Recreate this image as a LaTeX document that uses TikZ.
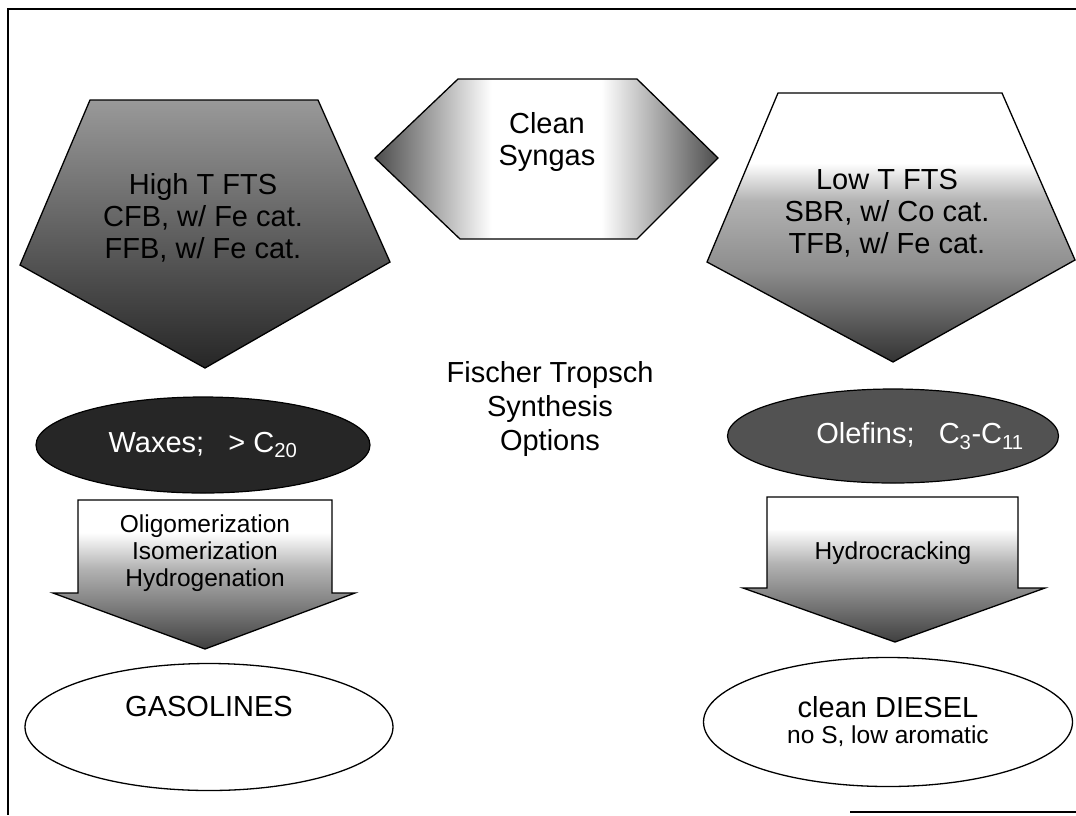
\documentclass[tikz,border=0pt]{standalone}
\usepackage{fontspec}
\setmainfont{Liberation Sans}
\usetikzlibrary{shapes.geometric}
\colorlet{gA}{black!40}
\colorlet{gB}{black!85}
\colorlet{gC}{black!30}
\colorlet{gD}{black!45}
\colorlet{gE}{black!80}
\colorlet{gF}{black!70}
\colorlet{gG}{black!50}
\colorlet{gH}{black!75}
\pgfdeclareverticalshading{leftpent}{100bp}{color(0bp)=(gB); color(25bp)=(gB); color(75bp)=(gA); color(100bp)=(gA)}
\pgfdeclareverticalshading{rightpent}{100bp}{color(0bp)=(gE); color(25bp)=(gE); color(42bp)=(gD); color(55bp)=(gC); color(62bp)=(white); color(100bp)=(white)}
\pgfdeclareverticalshading{arrowshade}{100bp}{color(0bp)=(gH); color(25bp)=(gH); color(40bp)=(gG); color(52bp)=(gC); color(64bp)=(white); color(100bp)=(white)}
\pgfdeclarehorizontalshading{synshade}{100bp}{color(0bp)=(gF); color(25bp)=(gF); color(42bp)=(white); color(58bp)=(white); color(75bp)=(gF); color(100bp)=(gF)}
\tikzset{
  outline/.style={draw=black, line width=1.3pt, line join=miter},
  big/.style={font=\fontsize{29}{32}\selectfont, align=center, inner sep=0pt},
  small/.style={font=\fontsize{24.5}{27}\selectfont, align=center, inner sep=0pt},
  darkoval/.style={ellipse, draw=black, line width=1.2pt, inner sep=0pt},
  whiteoval/.style={ellipse, draw=black, line width=1.3pt, fill=white, inner sep=0pt},
  frameline/.style={draw=black, line width=1.6pt}
}
\begin{document}
\begin{tikzpicture}[x=1pt,y=-1pt]
\useasboundingbox (0,0) rectangle (1076,815);
% frame
\coordinate (ftl) at (8,9);
\coordinate (ftr) at (1076,9);
\coordinate (fbl) at (8,815);
\coordinate (fbm) at (850,812);
\coordinate (fbr) at (1076,812);
\draw[frameline] (ftr) -- (ftl) -- (fbl);
\draw[frameline] (fbm) -- (fbr);

% left pentagon
\path[outline, shading=leftpent] (90,100) -- (318,100) -- (390,262) -- (205,368) -- (20,265) -- cycle;
% right pentagon
\path[outline, shading=rightpent] (778,93) -- (1002,93) -- (1075,260) -- (893,362) -- (707,262) -- cycle;
% clean syngas hexagon
\path[outline, shading=synshade] (375,158) -- (458,79) -- (637,79) -- (718,158) -- (637,239) -- (460,239) -- cycle;

% texts in top shapes
\node[big] (syn) at (547,142) {Clean\\Syngas};
\node[big] (hit) at (203,218) {High T FTS\\CFB, w/ Fe cat.\\FFB, w/ Fe cat.};
\node[big] (lot) at (887,213) {Low T FTS\\SBR, w/ Co cat.\\TFB, w/ Fe cat.};
\node[big, font=\fontsize{29}{34}\selectfont] (fts) at (550,409) {Fischer Tropsch\\Synthesis\\Options};

% dark ovals
\node[darkoval, fill=black!85, minimum width=334pt, minimum height=96pt] (wax) at (203,445) {};
\node[darkoval, fill=black!68, minimum width=331pt, minimum height=94pt] (ole) at (893,436) {};
\node[big, text=white] (waxt) at (203,445) {Waxes;\ \ \ > C\textsubscript{20}};
\node[big, text=white] (olet) at (920,436) {Olefins;\ \ \ C\textsubscript{3}-C\textsubscript{11}};

% block arrows
\path[outline, shading=arrowshade] (78,500) -- (332,500) -- (332,593) -- (355,593) -- (205,649) -- (53,593) -- (78,593) -- cycle;
\path[outline, shading=arrowshade] (767,497) -- (1018,497) -- (1018,588) -- (1045,588) -- (895,642) -- (743,588) -- (767,588) -- cycle;
\node[small] (proc1) at (205,553) {Oligomerization\\Isomerization\\Hydrogenation};
\node[small] (proc2) at (893,553) {Hydrocracking};

% product ovals
\node[whiteoval, minimum width=368pt, minimum height=127pt] (gas) at (209,727) {};
\node[whiteoval, minimum width=369pt, minimum height=129pt] (die) at (888,722) {};
\node[big] (gast) at (209,707) {GASOLINES};
\node[big] (diet1) at (888,707) {clean DIESEL};
\node[small] (diet2) at (888,736) {no S, low aromatic};
\end{tikzpicture}
\end{document}
